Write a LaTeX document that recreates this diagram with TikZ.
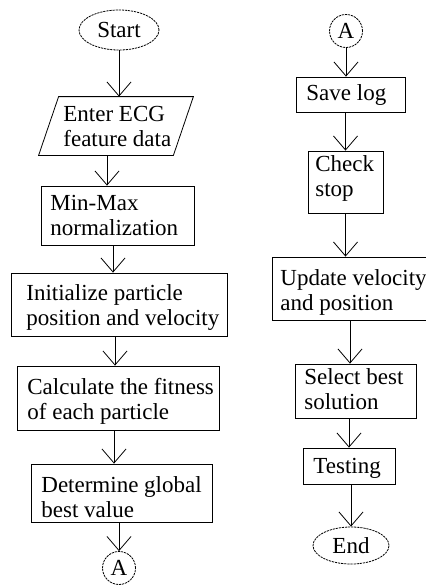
\documentclass[tikz,border=0pt]{standalone}
\usepackage{fontspec}
\setmainfont{Liberation Serif}
\usetikzlibrary{arrows.meta,fit,shapes.geometric}
\begin{document}
\begin{tikzpicture}[x=1pt,y=-1pt,
  line width=0.8pt,
  box/.style={draw, rectangle, inner sep=0pt, fit={#1}},
  area/.style={rectangle, inner sep=0pt, fit={#1}},
  term/.style={draw, ellipse, inner sep=0pt, dash pattern=on 2.2pt off 0.9pt,
    font=\fontsize{23}{25}\selectfont},
  conn/.style={draw, circle, inner sep=0pt, minimum size=33pt,
    dash pattern=on 2.2pt off 0.9pt, font=\fontsize{23}{25}\selectfont},
  % anchored at the baseline of the last line
  txt/.style={anchor=base west, inner sep=0pt, align=left,
    font=\fontsize{23}{24.5}\selectfont},
  arr/.style={-{Straight Barb[length=14pt,width=24pt,line width=0.8pt]}}]
\useasboundingbox (0,0) rectangle (426,587);

% ---------- left column ----------
\node[term, minimum width=80pt, minimum height=40pt] (start) at (119,30) {Start};

\node[area={(39,97) (193,155)}] (enter) {};
\draw ([xshift=20pt]enter.north west) -- (enter.north east)
  -- ([xshift=-20pt]enter.south east) -- (enter.south west) -- cycle;
\node[txt] (enterT) at (63,146) {Enter ECG\\feature data};

\node[box={(41,186) (194,245)}] (minmax) {};
\node[txt] (minmaxT) at (50,235) {Min-Max\\normalization};

\node[box={(11,273) (227,336)}] (init) {};
\node[txt] (initT) at (26,325) {Initialize particle\\position and velocity};

\node[box={(17,366) (219,430)}] (calc) {};
\node[txt] (calcT) at (27,419) {Calculate the fitness\\of each particle};

\node[box={(31,464) (212,522)}] (det) {};
\node[txt] (detT) at (41,517) {Determine global\\best value};

\node[conn] (a1) at (119,568) {A};

% ---------- right column ----------
\node[conn] (a2) at (346,31) {A};

\node[box={(296,77) (405,112)}] (save) {};
\node[txt] (saveT) at (306,100) {Save log};

\node[box={(308,151) (383,213)}] (check) {};
\node[txt] (checkT) at (315,196) {Check\\stop};

\node[box={(272,257) (428,320)}] (update) {};
\node[txt] (updateT) at (280,310) {Update velocity\\and position};

\node[box={(295,364) (416,418)}] (select) {};
\node[txt] (selectT) at (304,409) {Select best\\solution};

\node[box={(303,448) (395,484)}] (testing) {};
\node[txt] (testingT) at (313,473) {Testing};

\node[term, minimum width=76pt, minimum height=37pt] (end) at (351,545.5) {End};

% ---------- connectors ----------
\draw[arr] (start.south) -- (start.south |- enter.north);
\draw[arr] ([xshift=-9pt]enter.south) -- ([xshift=-9pt]enter.south |- minmax.north);
\draw[arr] ([xshift=-4.5pt]minmax.south) -- ([xshift=-4.5pt]minmax.south |- init.north);
\draw[arr] ([xshift=-4pt]init.south) -- ([xshift=-4pt]init.south |- calc.north);
\draw[arr] ([xshift=-4pt]calc.south) -- ([xshift=-4pt]calc.south |- det.north);
\draw[arr] (a1 |- det.south) -- (a1.north);

\draw[arr] (a2.south) -- (a2.south |- save.north);
\draw[arr] (check.north |- save.south) -- (check.north);
\draw[arr] (check.south) -- (check.south |- update.north);
\draw[arr] (update.south) -- (update.south |- select.north);
\draw[arr] (testing.north |- select.south) -- (testing.north);
\draw[arr] (end.north |- testing.south) -- (end.north);
\end{tikzpicture}
\end{document}
